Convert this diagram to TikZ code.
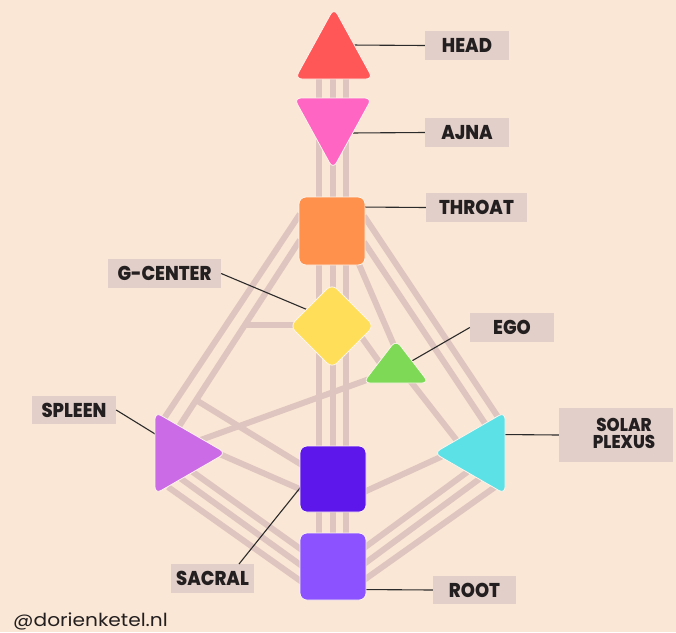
\documentclass[tikz,border=0pt]{standalone}
\usepackage{fontspec}
\newfontfamily\labelfont{Poppins}[UprightFont=* ExtraBold, FakeStretch=0.9]
\newfontfamily\markfont{Poppins}[FakeStretch=1.12]
\definecolor{bg}{HTML}{FBE7D5}
\definecolor{chan}{HTML}{DFC5BF}
\definecolor{tagc}{HTML}{E3CFC9}
\definecolor{ink}{HTML}{231F20}
\definecolor{leadc}{HTML}{2B2B2B}
\definecolor{headc}{HTML}{FF5757}
\definecolor{ajnac}{HTML}{FF66C4}
\definecolor{throatc}{HTML}{FF914D}
\definecolor{gc}{HTML}{FFDE59}
\definecolor{egoc}{HTML}{7ED957}
\definecolor{spleenc}{HTML}{CB6CE6}
\definecolor{solarc}{HTML}{5CE1E6}
\definecolor{sacralc}{HTML}{5E17EB}
\definecolor{rootc}{HTML}{8C52FF}
\begin{document}
\begin{tikzpicture}[x=1pt,y=-1pt,
  channel/.style={draw=chan, line width=6pt},
  leader/.style={draw=leadc, line width=1.1pt},
  hdshape/.style={draw=white!55!bg, line width=0.8pt, rounded corners=7pt},
  tag/.style={fill=tagc, inner sep=0pt, text=ink, align=center,
    font=\labelfont\fontsize{20}{17}\selectfont}]
% canvas
\fill[bg] (0,0) rectangle (676,632);
\useasboundingbox (0,0) rectangle (676,632);

% ---- channel end points ----
\coordinate (vtop) at (333,79);   \coordinate (vbot) at (333,533);
\coordinate (thL1) at (300,214);  \coordinate (spT1) at (163,420);
\coordinate (thL2) at (300,240);  \coordinate (spT2) at (178,428);
\coordinate (gJ)   at (245,325);  \coordinate (gW)   at (300,325);
\coordinate (brJ)  at (196,400);  \coordinate (saW1) at (302,465);
\coordinate (spA)  at (215,452);  \coordinate (saW2) at (302,490);
\coordinate (egW)  at (375,377);  \coordinate (spE)  at (195,442);
\coordinate (spB1) at (190,470);  \coordinate (rtW1) at (302,550);
\coordinate (spB2) at (180,478);  \coordinate (rtW2) at (302,566);
\coordinate (spB3) at (168,487);  \coordinate (rtW3) at (302,582);
\coordinate (thR1) at (364,216);  \coordinate (soT1) at (500,420);
\coordinate (thR2) at (364,242);  \coordinate (soT2) at (488,428);
\coordinate (thB)  at (358,262);  \coordinate (egT)  at (396,350);
\coordinate (gSE)  at (360,335);  \coordinate (egL)  at (385,370);
\coordinate (egB)  at (408,378);  \coordinate (soA)  at (458,442);
\coordinate (saE)  at (364,492);  \coordinate (soW)  at (445,455);
\coordinate (soB1) at (470,470);  \coordinate (rtE1) at (364,548);
\coordinate (soB2) at (482,477);  \coordinate (rtE2) at (364,564);
\coordinate (soB3) at (495,487);  \coordinate (rtE3) at (364,580);

% ---- channels ----
\foreach \dx in {-14,0,13}
  \draw[channel] ([xshift=\dx pt]vtop) -- ([xshift=\dx pt]vbot);
\draw[channel] (thL1) -- (spT1);
\draw[channel] (thL2) -- (spT2);
\draw[channel] (gJ) -- (gW);
\draw[channel] (brJ) -- (saW1);
\draw[channel] (spA) -- (saW2);
\draw[channel] (egW) -- (spE);
\draw[channel] (spB1) -- (rtW1);
\draw[channel] (spB2) -- (rtW2);
\draw[channel] (spB3) -- (rtW3);
\draw[channel] (thR1) -- (soT1);
\draw[channel] (thR2) -- (soT2);
\draw[channel] (thB) -- (egT);
\draw[channel] (gSE) -- (egL);
\draw[channel] (egB) -- (soA);
\draw[channel] (saE) -- (soW);
\draw[channel] (soB1) -- (rtE1);
\draw[channel] (soB2) -- (rtE2);
\draw[channel] (soB3) -- (rtE3);

% ---- labels ----
\node[tag, minimum width=84pt, minimum height=29pt] (headtag)   at (467,45.5)  {HEAD};
\node[tag, minimum width=84pt, minimum height=29pt] (ajnatag)   at (467,132.5) {AJNA};
\node[tag, minimum width=101pt, minimum height=29pt] (throattag) at (476.5,207.5) {THROAT};
\node[tag, minimum width=113pt, minimum height=29pt] (gtag)      at (164.5,273.5) {G-CENTER};
\node[tag, minimum width=84pt, minimum height=29pt] (egotag)    at (512,327.5) {EGO};
\node[tag, minimum width=84pt, minimum height=28pt] (spleentag) at (74,410)    {SPLEEN};
\node[tag, minimum width=114pt, minimum height=54pt] (solartag)  at (616,435) {};
\node[tag, anchor=center, font=\labelfont\fontsize{18.5}{17}\selectfont]
  (solartext) at (624,433) {SOLAR\\PLEXUS};
\node[tag, minimum width=83pt, minimum height=29pt] (sacraltag) at (212.5,578.5) {SACRAL};
\node[tag, minimum width=83pt, minimum height=28pt] (roottag)   at (474.5,590)  {ROOT};

% ---- leader lines ----
\coordinate (headpt)   at (350,45);
\coordinate (ajnapt)   at (350,133);
\coordinate (throatpt) at (360,207);
\coordinate (gpt)      at (308,310);
\coordinate (egopt)    at (410,362);
\coordinate (spleenpt) at (160,437);
\coordinate (solarpt)  at (500,434.5);
\coordinate (sacralpt) at (304,483);
\coordinate (sacralft) at (239,564);
\coordinate (rootpt)   at (360,589.5);
\draw[leader] (headtag.west) -- (headpt);
\draw[leader] (ajnatag.west) -- (ajnapt);
\draw[leader] (throattag.west) -- (throatpt);
\draw[leader] (gtag.east) -- (gpt);
\draw[leader] (egotag.west) -- (egopt);
\draw[leader] (spleentag.east) -- (spleenpt);
\draw[leader] (solartag.west) -- (solarpt);
\draw[leader] (sacralft) -- (sacralpt);
\draw[leader] (roottag.west) -- (rootpt);

% ---- energy centers ----
\filldraw[hdshape, fill=headc]    (334,8) -- (373,79) -- (295,79) -- cycle;
\filldraw[hdshape, fill=ajnac]    (294,98) -- (372,98) -- (333,169) -- cycle;
\filldraw[hdshape, fill=throatc]  (299,197) rectangle (365,265);
\filldraw[hdshape, fill=gc]       (332,284) -- (374,326) -- (332,368) -- (290,326) -- cycle;
\filldraw[hdshape, fill=egoc]     (396,340) -- (429,383) -- (363,383) -- cycle;
\filldraw[hdshape, fill=spleenc]  (155,412) -- (226,453) -- (155,494) -- cycle;
\filldraw[hdshape, fill=solarc]   (505,412) -- (505,494) -- (434,453) -- cycle;
\filldraw[hdshape, fill=sacralc]  (300,446) rectangle (366,512);
\filldraw[hdshape, fill=rootc]    (300,533) rectangle (366,600);

% ---- credit ----
\node[anchor=base west, inner sep=0pt, text=ink,
  font=\markfont\fontsize{18}{18}\selectfont] (credit) at (13,626.5) {@dorienketel.nl};
\end{tikzpicture}
\end{document}
